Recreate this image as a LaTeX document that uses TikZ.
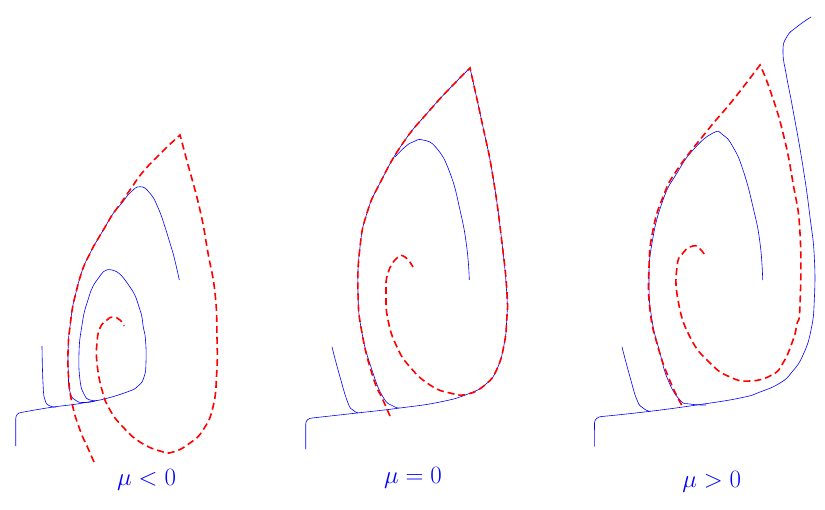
\documentclass[tikz,border=0pt]{standalone}
\begin{document}
\begin{tikzpicture}[x=1pt,y=-1pt,
  traj/.style={draw=blue,line width=0.6pt,line join=round},
  sep/.style={draw=red,line width=1.6pt,dash pattern=on 7pt off 4pt},
  mulabel/.style={text=blue,font=\Huge,inner sep=0pt},
  sm/.style={smooth,tension=0.85}]
\useasboundingbox (0,0) rectangle (825,509);
% ---------- panel 1: mu < 0 ----------
\draw[traj] (15.7,446) -- (15.7,419) to[out=90,in=182] (21,412.5)
  -- plot[sm] coordinates {(21,412.5) (50,407.5) (77,404) (100,400) (127,392) (138,386) (144,377) (146,362) (145.5,340) (143.3,327) (140,310) (130,287) (112,270) (97,280) (87,303) (81.7,327) (79,353) (80,380) (84,394) (90,400) (100,400)};
\draw[traj] plot[sm] coordinates {(95,401) (85,402.5) (76,400.5) (70,392) (68.3,373) (68.3,345) (70,326.7) (73.3,303.3) (78.3,283.3) (85,263.3) (93.3,246.7) (103.3,230) (113.3,213.3) (121.7,203.3) (130,193) (140,186.7) (150,193.3) (158.3,208.3) (166,230) (173,253) (179.3,280)};
\draw[traj] plot[sm] coordinates {(42,346) (43,383) (45,400) (50,406) (56,407)};
\draw[sep] plot[sm] coordinates {(94,462) (87,446) (80,430) (72,403) (68.3,373) (68.3,345) (70,326.7) (73.3,303.3) (78.3,283.3) (85,263.3) (93.3,246.7) (103.3,230) (113.3,213.3) (121.7,202) (131,188.5) (143.3,171.5) (162,152) (180,135)}
  -- plot[sm] coordinates {(180,135) (186.7,160) (200,210) (208,253) (215,293) (217,337) (216.7,373) (213,407) (203,430) (190,443) (173,452) (160,451) (140,442) (123,427) (110,410) (102,390) (97,363) (97,343) (100,328) (107,320) (113,317) (120,320) (124,326)};
\node[mulabel] (l1) at (146.5,480) {$\mu<0$};
% ---------- panel 2: mu = 0 ----------
\draw[traj] (305.7,449) -- (305.7,424) to[out=90,in=182] (312,418)
  -- plot[sm] coordinates {(312,418) (357,413) (400,408) (440,402) (468,394) (486,384) (497,369) (504,345) (506.7,320) (506.7,293) (502,243) (493,177) (483,127) (470,68)}
  -- plot[sm] coordinates {(470,68) (453,85) (430,110) (403,143) (380,183) (367,213) (360,247) (358,293) (362,333) (372,370) (383,397) (393,406) (400,408)};
\draw[traj] plot[sm] coordinates {(395,157) (405,147) (413,142) (423,140) (436.7,148.3) (450,173) (460,210) (466.7,246.7) (469.3,280)};
\draw[traj] plot[sm] coordinates {(332,347) (340,377) (348,403) (353,410) (358,413)};
\draw[sep] plot[sm] coordinates {(390,416) (383,400) (373,377) (362,333) (358,293) (360,247) (367,213) (380,183) (403,143) (430,110) (453,85) (470,68)}
  -- plot[sm] coordinates {(470,68) (483,127) (493,177) (502,243) (507,293) (506.7,320) (504,345) (497,369) (486,384) (468,394) (450,393) (430,385) (410,367) (397,347) (388,320) (386,293) (388,273) (397,258) (405,257) (413,267)};
\node[mulabel] (l2) at (413,478) {$\mu=0$};
% ---------- panel 3: mu > 0 ----------
\draw[traj] (594.3,446.7) -- (594.5,423) to[out=90,in=182] (601.7,416.5)
  -- plot[sm] coordinates {(601.7,416.5) (646.7,411.7) (696.7,405) (740,398) (760,392) (780,383) (792,372) (803,355) (811,330) (814.3,300) (814.3,257) (810,217) (803,167) (793,110) (786.7,77) (783,52) (786.7,37) (796.7,27) (811,17)};
\draw[traj] plot[sm] coordinates {(706,405) (690,404) (680,400) (668,380) (660,353) (652,320) (649,283) (652,243) (663,200) (677,173) (693,150) (713,133) (723,135) (733,147) (743,170) (753,207) (760,243) (762.7,280)};
\draw[traj] plot[sm] coordinates {(622,347) (630,377) (637,400) (643,408) (650,411.5)};
\draw[sep] plot[sm] coordinates {(681.7,405) (670,381) (658,347) (650,310) (649,267) (653,230) (663,197) (677,170) (707,131) (733,100) (760,65)}
  -- plot[sm] coordinates {(760,65) (770,90) (783,133) (793,183) (800,233) (800,305) (796.7,325) (793,340) (783,363) (771.7,375) (750,381) (730,377) (710,363) (690,337) (678,300) (677,267) (683,253) (693,246) (700,249) (706,257)};
\node[mulabel] (l3) at (711.7,481.7) {$\mu>0$};
\end{tikzpicture}
\end{document}
